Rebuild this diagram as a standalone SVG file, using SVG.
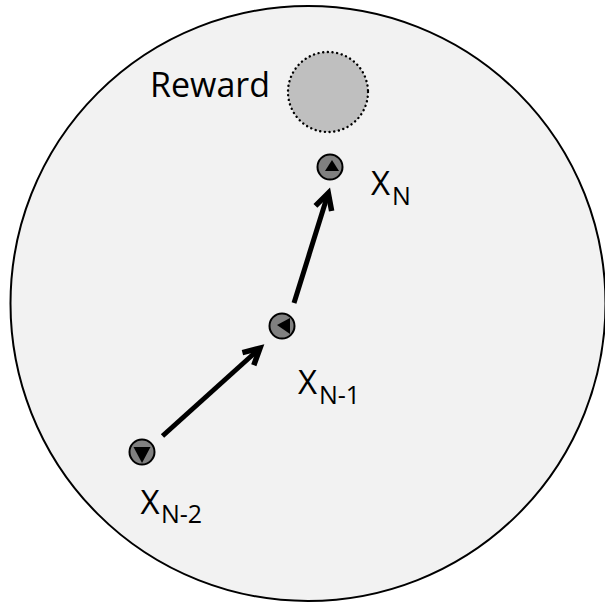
<svg xmlns="http://www.w3.org/2000/svg" width="605" height="609" viewBox="0 0 605 609">
<style>
.lbl{font-family:"Open Sans","Liberation Sans",sans-serif;fill:#000}
.agent{fill:#808080;stroke:#000;stroke-width:2}
.tri{fill:#000}
.conn{stroke:#000;stroke-width:5;fill:none}
</style>
<defs>
<marker id="ah" markerUnits="userSpaceOnUse" markerWidth="40" markerHeight="40" refX="0" refY="0" orient="auto" overflow="visible">
<path d="M-14,-8.5 L2,0 L-14,8.5" fill="none" stroke="#000" stroke-width="5.5" stroke-linejoin="miter"/>
</marker>
</defs>
<g id="arena">
<circle cx="308" cy="303.5" r="297.5" fill="#f2f2f2" stroke="#000" stroke-width="2"/>
</g>
<g id="reward">
<circle cx="328" cy="92" r="40" fill="#bfbfbf" stroke="#000" stroke-width="2.4" stroke-dasharray="0.1 4.6" stroke-linecap="round"/>
<text class="lbl" x="150" y="97" font-size="34">Reward</text>
</g>
<g id="connectors">
<line class="conn" x1="162.5" y1="436" x2="258.5" y2="349.5" marker-end="url(#ah)"/>
<line class="conn" x1="294" y1="303" x2="327.7" y2="195" marker-end="url(#ah)"/>
</g>
<g id="xn">
<circle class="agent" cx="330" cy="167" r="12.5"/>
<polygon class="tri" points="325,171 339,171 332,160"/>
<text class="lbl" x="371" y="195" font-size="33">X</text>
<text class="lbl" x="392" y="205" font-size="25">N</text>
</g>
<g id="xn1">
<circle class="agent" cx="282" cy="326" r="12.5"/>
<polygon class="tri" points="277,325 290,318 290,334"/>
<text class="lbl" x="298" y="394" font-size="33">X</text>
<text class="lbl" x="319" y="404" font-size="25">N-1</text>
</g>
<g id="xn2">
<circle class="agent" cx="142" cy="452" r="12.5"/>
<polygon class="tri" points="133.5,447 150.5,447 142,463"/>
<text class="lbl" x="140.5" y="514" font-size="33">X</text>
<text class="lbl" x="161" y="523" font-size="25">N-2</text>
</g>
</svg>
